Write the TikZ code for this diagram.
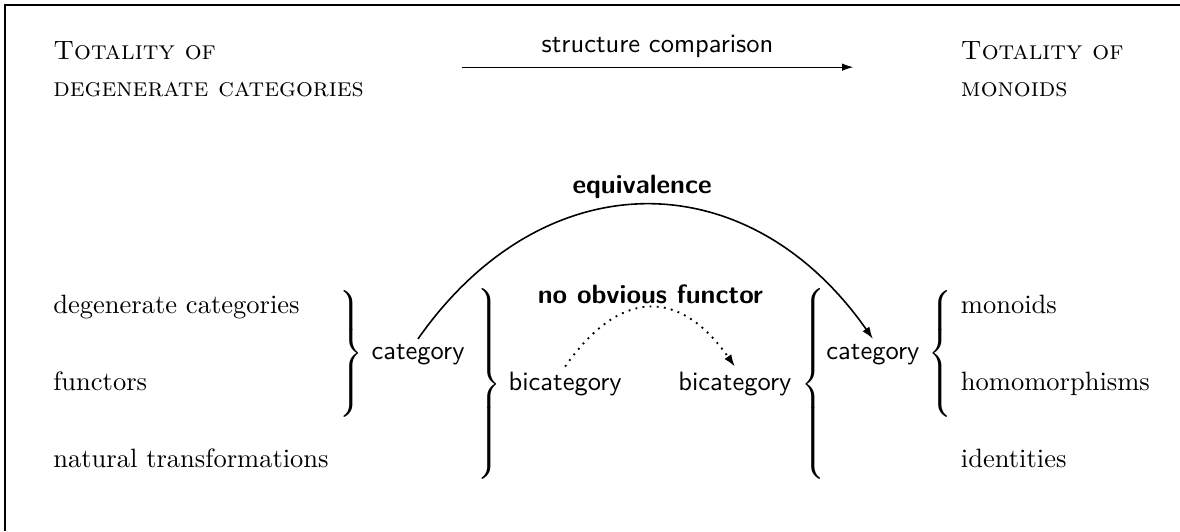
\documentclass[tikz,border=0pt]{standalone}
\usepackage{tikz}
\usetikzlibrary{arrows.meta}
\newcommand{\closebrace}[1]{$\delimiterfactor=1000 \delimitershortfall=0pt \left.\vcenter{\hbox{\rule{0pt}{#1}}}\right\}$}
\newcommand{\openbrace}[1]{$\delimiterfactor=1000 \delimitershortfall=0pt \left\{\vcenter{\hbox{\rule{0pt}{#1}}}\right.$}
\tikzset{
  item/.style={anchor=base west, inner sep=0pt},
  head/.style={anchor=west, align=left, inner sep=0pt},
  obj/.style={anchor=base, font=\sffamily, inner sep=2pt},
  lbl/.style={anchor=base, font=\sffamily\bfseries},
  brc/.style={inner sep=0pt},
  cmp/.style={-{Latex[length=1.5mm,width=1mm]}, thin},
  arr/.style={-{Latex[length=1.6mm,width=1.1mm]}, semithick},
  darr/.style={-{Latex[length=1.6mm,width=1.1mm]}, line width=0.7pt, dotted}
}

\begin{document}
\begin{tikzpicture}
\useasboundingbox (0,0) rectangle (15.64,-7.04);
\draw[line width=1pt] (0.066,-7.04) |- (15.64,-0.066);
\node[head] (totL) at (0.70,-0.92) {\textsc{Totality of}\\[2pt]\textsc{degenerate categories}};
\node[head] (totR) at (12.73,-0.92) {\textsc{Totality of}\\[2pt]\textsc{monoids}};
\coordinate (cmpA) at (6.12,-0.89);
\coordinate (cmpB) at (11.31,-0.89);
\draw[cmp] (cmpA) -- node[above, font=\sffamily] {structure comparison} (cmpB);
\node[item] (dcat) at (0.70,-4.16) {degenerate categories};
\node[item] (fun) at (0.70,-5.18) {functors};
\node[item] (nat) at (0.70,-6.20) {natural transformations};
\node[item] (mon) at (12.73,-4.16) {monoids};
\node[item] (hom) at (12.73,-5.18) {homomorphisms};
\node[item] (idt) at (12.73,-6.20) {identities};
\node[brc] (brA) at (4.63,-4.69) {\closebrace{48pt}};
\node[brc] (brB) at (6.47,-5.09) {\closebrace{71pt}};
\node[brc] (brC) at (10.80,-5.09) {\openbrace{71pt}};
\node[brc] (brD) at (12.49,-4.69) {\openbrace{48pt}};
\node[obj] (catL) at (5.54,-4.77) {category};
\node[obj] (bicL) at (7.49,-5.18) {bicategory};
\node[obj] (bicR) at (9.74,-5.18) {bicategory};
\node[obj] (catR) at (11.57,-4.77) {category};
\node[lbl] (eqv) at (8.51,-2.56) {equivalence};
\node[lbl] (nof) at (8.62,-4.02) {no obvious functor};
\draw[arr] (catL.north) to[out=55,in=125,looseness=1.23] (catR.north);
\draw[darr] (bicL.north) to[out=55,in=125,looseness=1.45] (bicR.north);
\end{tikzpicture}
\end{document}
